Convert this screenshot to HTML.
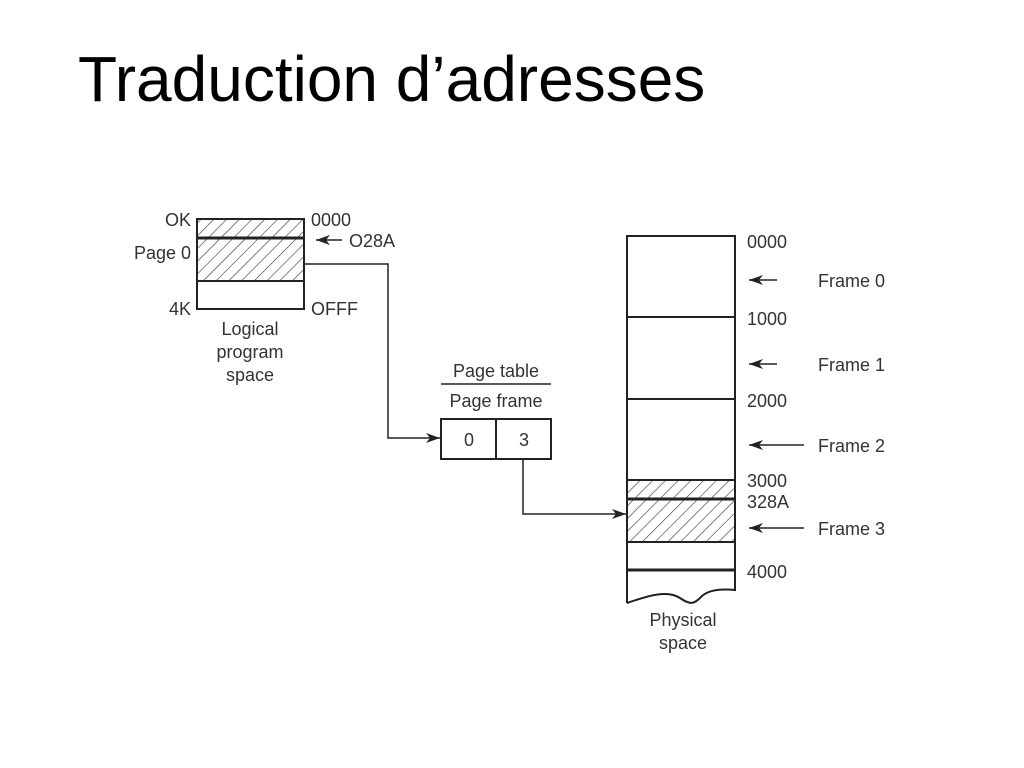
<!DOCTYPE html>
<html><head><meta charset="utf-8"><style>
html,body{margin:0;padding:0;background:#fff;width:1024px;height:768px;overflow:hidden}
svg{display:block}
text{font-family:"Liberation Sans",sans-serif;fill:#333}
</style></head><body>
<svg width="1024" height="768" viewBox="0 0 1024 768">
<defs>
<pattern id="h" patternUnits="userSpaceOnUse" width="9" height="9" patternTransform="rotate(45)">
<line x1="0" y1="0" x2="0" y2="9" stroke="#333" stroke-width="1.2"/>
</pattern>
<marker id="a" markerWidth="14" markerHeight="10" refX="14" refY="5" orient="auto" markerUnits="userSpaceOnUse">
<path d="M0,0 L14,5 L0,10 L4,5 Z" fill="#222"/>
</marker>
</defs>
<text x="78" y="101" style="font-family:'Liberation Sans',sans-serif;font-size:64px;fill:#000">Traduction d’adresses</text>

<g stroke="#222" stroke-width="2" fill="none">
<rect x="197" y="219" width="107" height="62" fill="url(#h)" stroke="none"/>
<rect x="197" y="219" width="107" height="90"/>
<line x1="197" y1="238" x2="304" y2="238" stroke-width="3"/>
<line x1="197" y1="281" x2="304" y2="281"/>
<line x1="342" y1="240" x2="316" y2="240" marker-end="url(#a)" stroke-width="1.5"/>
<polyline points="304,264 388,264 388,438 440,438" stroke-width="1.5" marker-end="url(#a)"/>
<line x1="441" y1="384" x2="551" y2="384" stroke-width="1.5"/>
<rect x="441" y="419" width="110" height="40"/>
<line x1="496" y1="419" x2="496" y2="459"/>
<polyline points="523,459 523,514 626,514" stroke-width="1.5" marker-end="url(#a)"/>
<rect x="627" y="480" width="108" height="62" fill="url(#h)" stroke="none"/>
<path d="M627,603 L627,236 L735,236 L735,590 C715,588 705,592 700,598 C694,604 690,605 680,598 C668,590 650,595 627,603"/>
<line x1="627" y1="317" x2="735" y2="317"/>
<line x1="627" y1="399" x2="735" y2="399"/>
<line x1="627" y1="480" x2="735" y2="480"/>
<line x1="627" y1="499" x2="735" y2="499" stroke-width="3"/>
<line x1="627" y1="542" x2="735" y2="542"/>
<line x1="627" y1="570" x2="735" y2="570" stroke-width="3"/>
<g stroke-width="1.5">
<line x1="777" y1="280" x2="749" y2="280" marker-end="url(#a)"/>
<line x1="777" y1="364" x2="749" y2="364" marker-end="url(#a)"/>
<line x1="804" y1="445" x2="749" y2="445" marker-end="url(#a)"/>
<line x1="804" y1="528" x2="749" y2="528" marker-end="url(#a)"/>
</g>
</g>

<g font-size="18">
<text x="191" y="226" text-anchor="end">OK</text>
<text x="191" y="259" text-anchor="end">Page 0</text>
<text x="191" y="315" text-anchor="end">4K</text>
<text x="311" y="226">0000</text>
<text x="349" y="247">O28A</text>
<text x="311" y="315">OFFF</text>
<text x="250" y="335" text-anchor="middle">Logical</text>
<text x="250" y="358" text-anchor="middle">program</text>
<text x="250" y="381" text-anchor="middle">space</text>
<text x="496" y="377" text-anchor="middle">Page table</text>
<text x="496" y="407" text-anchor="middle">Page  frame</text>
<text x="469" y="446" text-anchor="middle">0</text>
<text x="524" y="446" text-anchor="middle">3</text>
<text x="747" y="248">0000</text>
<text x="747" y="325">1000</text>
<text x="747" y="407">2000</text>
<text x="747" y="487">3000</text>
<text x="747" y="508">328A</text>
<text x="747" y="578">4000</text>
<text x="818" y="287">Frame 0</text>
<text x="818" y="371">Frame 1</text>
<text x="818" y="452">Frame 2</text>
<text x="818" y="535">Frame 3</text>
<text x="683" y="626" text-anchor="middle">Physical</text>
<text x="683" y="649" text-anchor="middle">space</text>
</g>
</svg>
</body></html>
